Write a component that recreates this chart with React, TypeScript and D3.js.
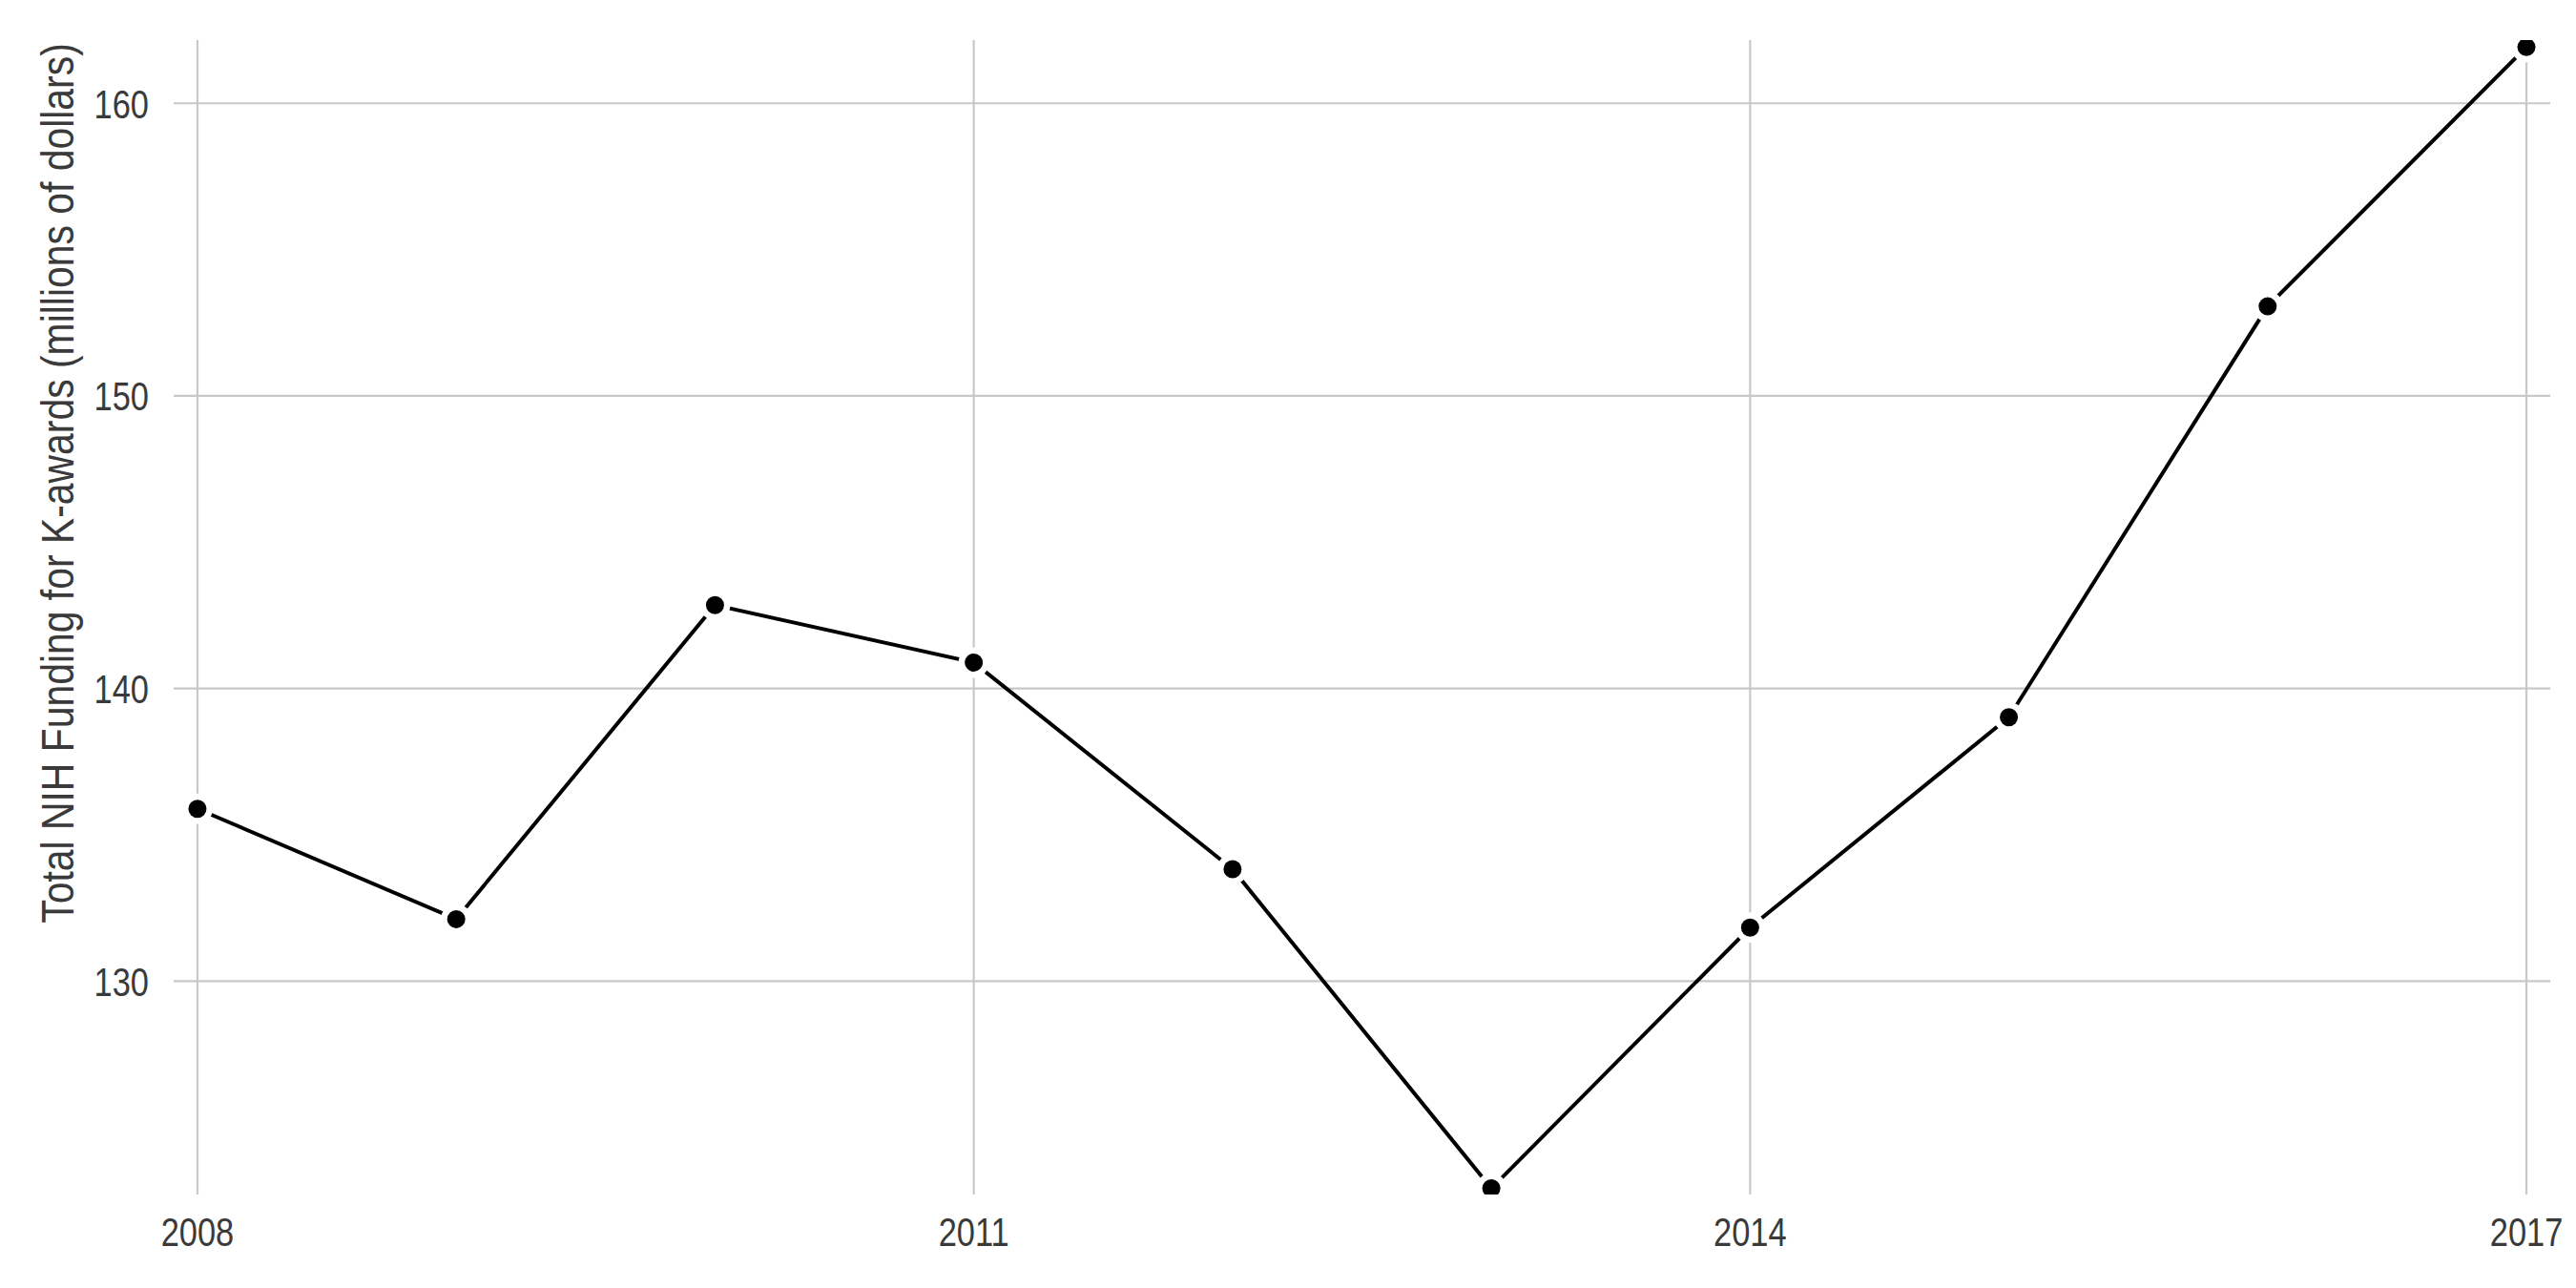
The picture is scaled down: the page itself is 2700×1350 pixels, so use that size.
import * as React from 'react';
import { scaleLinear, line as d3line } from 'd3';

const years = [2008, 2009, 2010, 2011, 2012, 2013, 2014, 2015, 2016, 2017];
const funding = [135.89, 132.12, 142.85, 140.89, 133.83, 122.92, 131.83, 139.02, 153.06, 161.92];
const xTicks = [2008, 2011, 2014, 2017];
const yTicks = [130, 140, 150, 160];
const yLabel = 'Total NIH Funding for K-awards (millions of dollars)';

const W = 2700;
const H = 1350;
const panel = { left: 182, right: 2673, top: 42, bottom: 1252 };
const font = '"Liberation Sans", Arial, Helvetica, sans-serif';
const textColor = '#3a3a3a';
const gridColor = '#c8c8c8';
// the original lettering is condensed horizontally
const squeeze = 0.82;

export default function App() {
  const x = scaleLinear().domain([2007.908, 2017.092]).range([panel.left, panel.right]);
  const y = scaleLinear().domain([122.71, 162.16]).range([panel.bottom, panel.top]);

  const pts = years.map((yr, i) => ({ yr, v: funding[i] }));
  const path = d3line<{ yr: number; v: number }>().x(p => x(p.yr)).y(p => y(p.v))(pts) ?? '';

  return (
    <svg width={W} height={H} viewBox={`0 0 ${W} ${H}`}
      style={{ position: 'absolute', left: 0, top: 0, background: '#fff' }}>
      <defs>
        <clipPath id="panel">
          <rect x={panel.left} y={panel.top} width={panel.right - panel.left} height={panel.bottom - panel.top} />
        </clipPath>
      </defs>
      <rect width={W} height={H} fill="#fff" />

      {/* grid */}
      {yTicks.map(t => (
        <line key={'gy' + t} x1={panel.left} x2={panel.right} y1={y(t)} y2={y(t)}
          stroke={gridColor} strokeWidth={2.2} />
      ))}
      {xTicks.map(t => (
        <line key={'gx' + t} x1={x(t)} x2={x(t)} y1={panel.top} y2={panel.bottom}
          stroke={gridColor} strokeWidth={2.2} />
      ))}

      <g clipPath="url(#panel)">
        <path d={path} fill="none" stroke="#000" strokeWidth={4} />
        {pts.map(p => (
          <circle key={'h' + p.yr} cx={x(p.yr)} cy={y(p.v)} r={16} fill="#fff" />
        ))}
        {pts.map(p => (
          <circle key={'d' + p.yr} cx={x(p.yr)} cy={y(p.v)} r={9.5} fill="#000" />
        ))}
      </g>

      {/* tick labels */}
      {yTicks.map(t => (
        <text key={'ty' + t} transform={`translate(156, ${y(t) + 15.5}) scale(${squeeze}, 1)`}
          textAnchor="end" fontFamily={font} fontSize={42} fill={textColor}>{t}</text>
      ))}
      {xTicks.map(t => (
        <text key={'tx' + t} transform={`translate(${x(t)}, 1306) scale(${squeeze}, 1)`}
          textAnchor="middle" fontFamily={font} fontSize={42} fill={textColor}>{t}</text>
      ))}

      <text transform="translate(77, 506.5) rotate(-90) scale(0.852, 1)" textAnchor="middle"
        fontFamily={font} fontSize={48} fill={textColor}>{yLabel}</text>
    </svg>
  );
}
